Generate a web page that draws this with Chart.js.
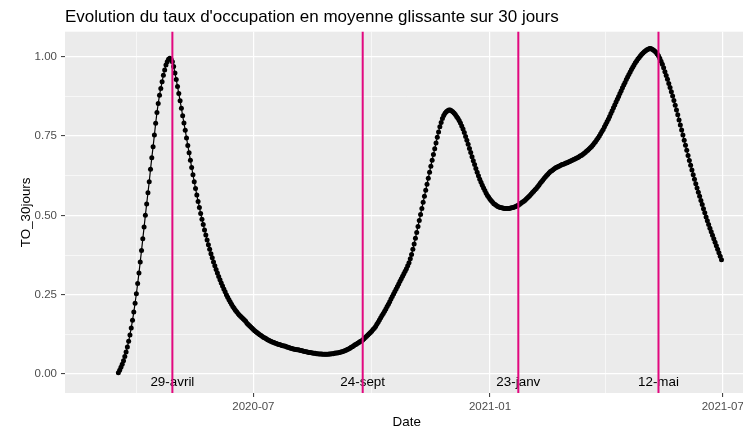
<!DOCTYPE html>
<html><head><meta charset="utf-8">
<script src="https://cdn.jsdelivr.net/npm/chart.js@4.4.1/dist/chart.umd.min.js"></script>
<style>html,body{margin:0;padding:0;overflow:hidden;background:#fff;width:743px;height:431px}canvas{display:block}</style>
</head><body>
<canvas id="c" width="751" height="431"></canvas>
<script>
// ---- data ----
const startDate = '2020-03-18';   // first daily value
const occupancy = [
0.004,0.012,0.021,0.031,0.042,0.055,0.069,0.085,0.103,0.123,
0.145,0.169,0.195,0.223,0.253,0.285,0.318,0.353,0.389,0.426,
0.463,0.500,0.536,0.571,0.606,0.645,0.682,0.716,0.753,0.790,
0.824,0.853,0.879,0.900,0.921,0.942,0.958,0.974,0.984,0.992,
0.995,0.992,0.984,0.969,0.949,0.928,0.906,0.884,0.861,0.838,
0.814,0.791,0.768,0.744,0.720,0.697,0.674,0.651,0.628,0.606,
0.585,0.564,0.544,0.525,0.506,0.488,0.471,0.454,0.438,0.422,
0.407,0.393,0.379,0.366,0.353,0.341,0.329,0.318,0.307,0.297,
0.287,0.277,0.268,0.259,0.250,0.242,0.234,0.227,0.220,0.213,
0.207,0.201,0.196,0.191,0.186,0.182,0.178,0.174,0.170,0.166,
0.160,0.156,0.152,0.148,0.144,0.140,0.136,0.133,0.130,0.127,
0.124,0.121,0.118,0.115,0.113,0.111,0.108,0.106,0.104,0.102,
0.100,0.099,0.097,0.096,0.094,0.093,0.092,0.090,0.089,0.088,
0.087,0.085,0.084,0.083,0.081,0.080,0.079,0.078,0.077,0.076,
0.076,0.075,0.074,0.073,0.072,0.071,0.070,0.069,0.068,0.068,
0.067,0.066,0.065,0.065,0.064,0.064,0.063,0.063,0.063,0.062,
0.062,0.062,0.062,0.062,0.063,0.063,0.064,0.064,0.065,0.066,
0.066,0.067,0.068,0.069,0.070,0.072,0.073,0.075,0.077,0.079,
0.081,0.084,0.086,0.089,0.092,0.094,0.097,0.099,0.102,0.104,
0.107,0.111,0.115,0.119,0.123,0.127,0.131,0.135,0.140,0.144,
0.150,0.157,0.163,0.170,0.177,0.184,0.191,0.198,0.205,0.213,
0.220,0.228,0.236,0.244,0.252,0.260,0.268,0.276,0.284,0.292,
0.300,0.308,0.316,0.324,0.332,0.341,0.351,0.363,0.377,0.393,
0.410,0.428,0.446,0.465,0.484,0.503,0.522,0.541,0.560,0.579,
0.598,0.617,0.636,0.655,0.674,0.692,0.710,0.728,0.746,0.763,
0.779,0.793,0.805,0.815,0.822,0.827,0.830,0.832,0.832,0.830,
0.827,0.823,0.818,0.812,0.806,0.799,0.791,0.782,0.772,0.761,
0.749,0.737,0.724,0.711,0.698,0.685,0.672,0.660,0.648,0.636,
0.625,0.614,0.604,0.595,0.586,0.578,0.570,0.563,0.557,0.551,
0.546,0.541,0.537,0.534,0.531,0.528,0.526,0.525,0.524,0.523,
0.522,0.522,0.522,0.522,0.522,0.523,0.524,0.525,0.526,0.528,
0.530,0.532,0.535,0.538,0.541,0.544,0.547,0.551,0.555,0.559,
0.563,0.567,0.572,0.576,0.581,0.585,0.590,0.595,0.601,0.606,
0.611,0.616,0.621,0.626,0.630,0.634,0.638,0.641,0.644,0.647,
0.650,0.652,0.654,0.656,0.658,0.660,0.661,0.663,0.665,0.666,
0.668,0.670,0.672,0.674,0.676,0.678,0.680,0.682,0.684,0.687,
0.689,0.692,0.695,0.698,0.702,0.705,0.709,0.713,0.717,0.722,
0.727,0.732,0.738,0.744,0.750,0.757,0.764,0.771,0.779,0.787,
0.795,0.803,0.812,0.821,0.830,0.839,0.848,0.857,0.866,0.875,
0.884,0.893,0.902,0.911,0.919,0.928,0.936,0.944,0.952,0.960,
0.967,0.974,0.981,0.987,0.993,0.998,1.003,1.008,1.012,1.016,
1.019,1.022,1.024,1.026,1.026,1.024,1.021,1.018,1.014,1.009,
1.003,0.995,0.986,0.976,0.965,0.953,0.941,0.929,0.916,0.903,
0.890,0.876,0.862,0.847,0.832,0.817,0.801,0.785,0.769,0.753,
0.737,0.721,0.705,0.689,0.673,0.658,0.643,0.628,0.614,0.600,
0.586,0.573,0.560,0.547,0.534,0.521,0.508,0.495,0.483,0.471,
0.459,0.448,0.437,0.426,0.415,0.404,0.393,0.382,0.371,0.360
];
const eventDates  = ['2020-04-29', '2020-09-24', '2021-01-23', '2021-05-12'];
const eventLabels = ['29-avril', '24-sept', '23-janv', '12-mai'];
const xMajorTickDates  = ['2020-07-01', '2021-01-01', '2021-07-01'];
const xMajorTickLabels = ['2020-07', '2021-01', '2021-07'];
const xMinorGridDates  = ['2020-04-01', '2020-10-01', '2021-04-01'];
const yMajorTicks = [0, 0.25, 0.5, 0.75, 1];
const yMinorTicks = [0.125, 0.375, 0.625, 0.875];

// ---- helpers / styling ----
const DAY = 86400000;
const dayNum = s => Date.UTC(+s.slice(0,4), +s.slice(5,7)-1, +s.slice(8,10)) / DAY;
const start = dayNum(startDate);
const points = occupancy.map((v, i) => ({x: start + i, y: v}));
const FONT = '"Liberation Sans", Arial, sans-serif';
const PINK = '#e2087f';
const xMin = dayNum('2020-02-06') - 0.5, xMax = dayNum('2021-07-21');
const yMin = -0.06, yMax = 1.079;
const labelY = -0.038;

const majorX = xMajorTickDates.map(dayNum);
const minorX = xMinorGridDates.map(dayNum);
const isMajorX = v => majorX.some(m => Math.abs(m - v) < 1e-6);
const isMajorY = v => yMajorTicks.some(m => Math.abs(m - v) < 1e-9);

const panelPlugin = {
  id: 'panel',
  beforeDraw(chart) {
    const {ctx, chartArea: a} = chart;
    ctx.save();
    ctx.fillStyle = '#ebebeb';
    ctx.fillRect(a.left, a.top, a.right - a.left, a.bottom - a.top);
    ctx.restore();
  },
  afterDraw(chart) {
    const {ctx} = chart;
    ctx.save();
    ctx.font = '17px ' + FONT;
    ctx.fillStyle = '#000';
    ctx.textAlign = 'left';
    ctx.textBaseline = 'alphabetic';
    ctx.fillText("Evolution du taux d'occupation en moyenne glissante sur 30 jours", 65, 22);
    ctx.restore();
  }
};

const eventPlugin = {
  id: 'events',
  afterDatasetsDraw(chart) {
    const {ctx, chartArea: a, scales: {x, y}} = chart;
    ctx.save();
    ctx.font = '13.4px ' + FONT;
    ctx.fillStyle = '#000';
    ctx.textAlign = 'center';
    ctx.textBaseline = 'alphabetic';
    eventDates.forEach((d, i) => {
      ctx.fillText(eventLabels[i], x.getPixelForValue(dayNum(d)), y.getPixelForValue(labelY));
    });
    ctx.strokeStyle = PINK;
    ctx.lineWidth = 2;
    eventDates.forEach(d => {
      const px = x.getPixelForValue(dayNum(d));
      ctx.beginPath();
      ctx.moveTo(px, a.top);
      ctx.lineTo(px, a.bottom);
      ctx.stroke();
    });
    ctx.restore();
  }
};

new Chart(document.getElementById('c'), {
  type: 'line',
  data: {
    datasets: [{
      data: points,
      borderColor: '#000',
      borderWidth: 1.2,
      backgroundColor: '#000',
      pointRadius: 2.5,
      pointBorderWidth: 0,
      pointBackgroundColor: '#000',
      pointHoverRadius: 2.5,
      tension: 0,
      fill: false
    }]
  },
  options: {
    responsive: false,
    devicePixelRatio: 1,
    animation: false,
    events: [],
    layout: {padding: {top: 31.7, left: 0, right: 0, bottom: 0}},
    plugins: {legend: {display: false}, tooltip: {enabled: false}, title: {display: false}},
    scales: {
      x: {
        type: 'linear',
        min: xMin, max: xMax,
        afterBuildTicks: s => { s.ticks = [...minorX, ...majorX].sort((a, b) => a - b).map(v => ({value: v})); },
        afterFit: s => { s.height = 38; },
        border: {display: false},
        grid: {
          color: '#ffffff',
          lineWidth: c => (c.tick && isMajorX(c.tick.value)) ? 1.2 : 0.6,
          drawTicks: true,
          tickLength: 4,
          tickWidth: 1,
          tickColor: c => (c.tick && isMajorX(c.tick.value)) ? '#333333' : 'rgba(0,0,0,0)'
        },
        ticks: {
          autoSkip: false, maxRotation: 0, minRotation: 0, padding: 3,
          color: '#4d4d4d',
          font: {family: FONT, size: 11.5},
          callback: v => { const i = majorX.findIndex(m => Math.abs(m - v) < 1e-6); return i >= 0 ? xMajorTickLabels[i] : ''; }
        },
        title: {display: true, text: 'Date', color: '#000', font: {family: FONT, size: 13.4}, padding: {top: 0, bottom: 1}}
      },
      y: {
        type: 'linear',
        min: yMin, max: yMax,
        afterBuildTicks: s => { s.ticks = [...yMajorTicks, ...yMinorTicks].sort((a, b) => a - b).map(v => ({value: v})); },
        afterFit: s => { s.width = 65; },
        border: {display: false},
        grid: {
          color: '#ffffff',
          lineWidth: c => (c.tick && isMajorY(c.tick.value)) ? 1.2 : 0.6,
          drawTicks: true,
          tickLength: 4,
          tickWidth: 1,
          tickColor: c => (c.tick && isMajorY(c.tick.value)) ? '#333333' : 'rgba(0,0,0,0)'
        },
        ticks: {
          autoSkip: false, padding: 4,
          color: '#4d4d4d',
          font: {family: FONT, size: 11.5},
          callback: v => isMajorY(v) ? v.toFixed(2) : ''
        },
        title: {display: true, text: 'TO_30jours', color: '#000', font: {family: FONT, size: 13.4}, padding: {top: 18, bottom: 0}}
      }
    }
  },
  plugins: [panelPlugin, eventPlugin]
});
</script>
</body></html>
